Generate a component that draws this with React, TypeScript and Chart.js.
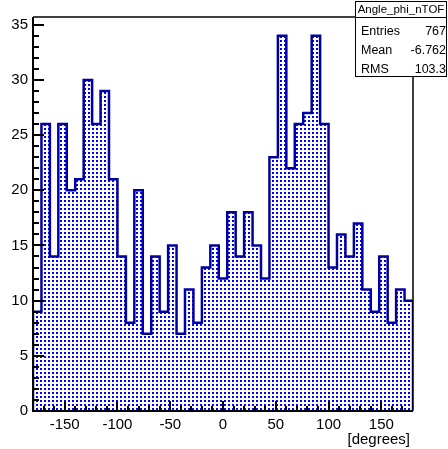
import { useEffect, useRef } from "react";
import { Chart, registerables } from "chart.js";

Chart.register(...registerables);

const xMin = -180;
const xMax = 180;
const binWidth = 8;
const counts = [
  9, 26, 14, 26, 20, 21, 30, 26, 29, 21, 14, 8, 20, 7, 14,
  9, 15, 7, 11, 8, 13, 15, 12, 18, 14, 18, 15, 12, 23, 34,
  22, 26, 27, 34, 26, 13, 16, 14, 17, 11, 9, 14, 8, 11, 10,
];
const xTicks = [-150, -100, -50, 0, 50, 100, 150];
const xMinorStep = 10;
const yTicks = [0, 5, 10, 15, 20, 25, 30, 35];
const yMinorStep = 1;
const yMax = 35.7;
const xTitle = "[degrees]";
const statsTitle = "Angle_phi_nTOF";
const statsLabels = ["Entries", "Mean", "RMS"];
const statsValues = ["767", "-6.762", "103.3"];

const FONT = '"Liberation Sans", Arial, sans-serif';

function makePattern(): CanvasPattern | string {
  const c = document.createElement("canvas");
  c.width = 4;
  c.height = 4;
  const g = c.getContext("2d");
  if (!g) return "#0000ff";
  g.fillStyle = "#ffffff";
  g.fillRect(0, 0, 4, 4);
  g.fillStyle = "#0000ff";
  g.fillRect(0, 0, 2, 2);
  const p = g.createPattern(c, "repeat");
  return p || "#0000ff";
}

const rootPlugin = {
  id: "rootDecor",
  afterDatasetsDraw(chart: any) {
    const ctx = chart.ctx as CanvasRenderingContext2D;
    const { left, right, top, bottom } = chart.chartArea;
    const xs = chart.scales.x;
    const ys = chart.scales.y;
    ctx.save();
    ctx.strokeStyle = "#000";
    // ticks
    ctx.lineWidth = 2;
    for (let v = xMin + 10; v < xMax; v += xMinorStep) {
      const px = Math.round(xs.getPixelForValue(v));
      const major = xTicks.includes(v);
      ctx.beginPath();
      ctx.moveTo(px, bottom);
      ctx.lineTo(px, bottom - (major ? 10 : 5));
      ctx.stroke();
    }
    for (let v = 0; v <= yMax; v += yMinorStep) {
      const py = Math.round(ys.getPixelForValue(v));
      const major = yTicks.includes(v);
      ctx.beginPath();
      ctx.moveTo(left, py);
      ctx.lineTo(left + (major ? 11 : 6), py);
      ctx.stroke();
    }
    // frame
    ctx.lineWidth = 2;
    ctx.beginPath();
    ctx.moveTo(left, top);
    ctx.lineTo(left, bottom);
    ctx.lineTo(right, bottom);
    ctx.stroke();
    ctx.lineWidth = 1.5;
    ctx.beginPath();
    ctx.moveTo(left, top);
    ctx.lineTo(right, top);
    ctx.lineTo(right, bottom);
    ctx.stroke();

    // axis title
    ctx.fillStyle = "#000";
    ctx.font = "15px " + FONT;
    ctx.textAlign = "right";
    ctx.textBaseline = "middle";
    ctx.fillText(xTitle, 410, 440);

    // stats box
    const bx = 355, by = 1, bw = 92, bh = 76;
    ctx.fillStyle = "#fff";
    ctx.fillRect(bx, by, bw, bh);
    ctx.lineWidth = 1;
    ctx.strokeStyle = "#000";
    ctx.strokeRect(bx + 0.5, by + 0.5, bw - 1, bh - 1);
    ctx.beginPath();
    ctx.moveTo(bx, 17.5);
    ctx.lineTo(bx + bw, 17.5);
    ctx.stroke();
    ctx.fillStyle = "#000";
    ctx.font = "11.5px " + FONT;
    ctx.textAlign = "center";
    ctx.fillText(statsTitle, bx + bw / 2, 9.5);
    ctx.font = "12.5px " + FONT;
    const rowsY = [32, 51, 70];
    statsLabels.forEach((lab, i) => {
      ctx.textAlign = "left";
      ctx.fillText(lab, 361, rowsY[i]);
      ctx.textAlign = "right";
      ctx.fillText(statsValues[i], 446, rowsY[i]);
    });
    ctx.restore();
  },
};

export default function App() {
  const ref = useRef<HTMLCanvasElement | null>(null);
  useEffect(() => {
    if (!ref.current) return;
    const points: { x: number; y: number }[] = [{ x: xMin, y: 0 }];
    counts.forEach((c, i) => points.push({ x: xMin + i * binWidth, y: c }));
    points.push({ x: xMin + counts.length * binWidth, y: counts[counts.length - 1] });
    points.push({ x: xMin + counts.length * binWidth, y: 0 });

    const chart = new Chart(ref.current, {
      type: "line",
      data: {
        datasets: [
          {
            data: points,
            stepped: "before",
            borderColor: "#0000a0",
            borderWidth: 2.5,
            backgroundColor: makePattern() as any,
            fill: "origin",
            pointRadius: 0,
            tension: 0,
          },
        ],
      },
      options: {
        animation: false,
        responsive: false,
        devicePixelRatio: 1,
        layout: { padding: { top: 17, right: 35, left: 0, bottom: 0 } },
        plugins: { legend: { display: false }, tooltip: { enabled: false }, title: { display: false } },
        scales: {
          x: {
            type: "linear",
            min: xMin,
            max: xMax,
            grid: { display: false, drawTicks: false, tickLength: 0 },
            border: { display: false },
            ticks: {
              color: "#000",
              font: { size: 15, family: FONT },
              padding: 5,
              maxRotation: 0,
              autoSkip: false,
            },
            afterBuildTicks: (s: any) => {
              s.ticks = xTicks.map((v) => ({ value: v }));
            },
            afterFit: (s: any) => {
              s.height = 38;
            },
          },
          y: {
            type: "linear",
            min: 0,
            max: yMax,
            grid: { display: false, drawTicks: false, tickLength: 0 },
            border: { display: false },
            ticks: {
              color: "#000",
              font: { size: 15, family: FONT },
              padding: 5,
              autoSkip: false,
            },
            afterBuildTicks: (s: any) => {
              s.ticks = yTicks.map((v) => ({ value: v }));
            },
            afterFit: (s: any) => {
              s.width = 33;
            },
          },
        },
      },
      plugins: [rootPlugin],
    });
    return () => chart.destroy();
  }, []);
  return (
    <canvas
      ref={ref}
      width={448}
      height={449}
      style={{ position: "absolute", left: 0, top: 0, width: 448, height: 449 }}
    />
  );
}
